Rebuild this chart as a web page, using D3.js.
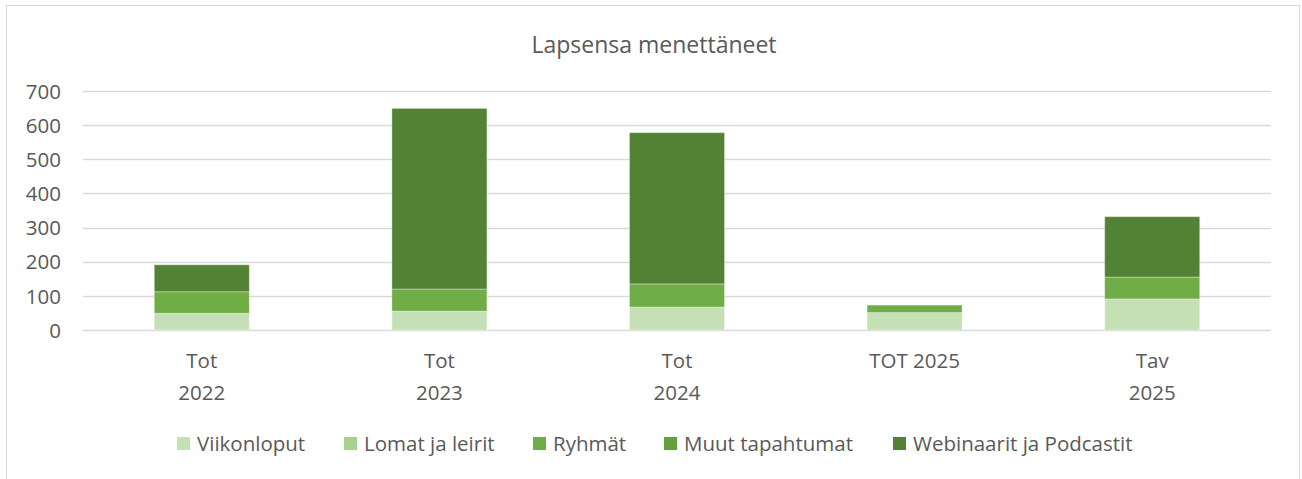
<!DOCTYPE html>
<html>
<head>
<meta charset="utf-8">
<script src="https://cdn.jsdelivr.net/npm/d3@7"></script>
<style>
  body { margin: 0; background: #fff; }
  svg text { font-family: "Open Sans", "Liberation Sans", sans-serif; fill: #595959; }
</style>
</head>
<body>
<div id="chart"></div>
<script>
'use strict';

// categories (x axis), two-line labels
const categories = ["Tot 2022", "Tot 2023", "Tot 2024", "TOT 2025", "Tav 2025"];
const categoryLabels = [["Tot", "2022"], ["Tot", "2023"], ["Tot", "2024"], ["TOT 2025"], ["Tav", "2025"]];

const seriesNames = ["Viikonloput", "Lomat ja leirit", "Ryhmät", "Muut tapahtumat", "Webinaarit ja Podcastit"];
const seriesColors = ["#C5E0B4", "#A9D18E", "#70AD47", "#65A03F", "#548235"];

// values
const viikonloput = [49, 55, 67, 51, 91];
const lomatJaLeirit = [0, 0, 0, 0, 0];
const ryhmat = [63, 65, 68, 22, 64];
const muutTapahtumat = [0, 0, 0, 0, 0];
const webinaarit = [79, 529, 443, 0, 177];

const yTicks = [0, 100, 200, 300, 400, 500, 600, 700];

const width = 1302, height = 479;
const margin = { left: 83, right: 31, top: 91, bottom: 149 };

const svg = d3.select("#chart").append("svg")
    .attr("width", width)
    .attr("height", height);

// chart frame
svg.append("rect")
    .attr("x", 6.5).attr("y", 5.5)
    .attr("width", 1293).attr("height", 480)
    .attr("fill", "#fff")
    .attr("stroke", "#d9d9d9");

const rows = categories.map((c, i) => ({
    cat: c,
    "Viikonloput": viikonloput[i],
    "Lomat ja leirit": lomatJaLeirit[i],
    "Ryhmät": ryhmat[i],
    "Muut tapahtumat": muutTapahtumat[i],
    "Webinaarit ja Podcastit": webinaarit[i]
}));

const x = d3.scaleBand()
    .domain(categories)
    .range([margin.left, width - margin.right])
    .paddingInner(0.6)
    .paddingOuter(0.3);

const y = d3.scaleLinear()
    .domain([0, 700])
    .range([height - margin.bottom, margin.top]);

// gridlines
svg.append("g")
    .selectAll("line")
    .data(yTicks)
    .join("line")
    .attr("x1", margin.left)
    .attr("x2", width - margin.right)
    .attr("y1", d => Math.round(y(d)) + 0.5)
    .attr("y2", d => Math.round(y(d)) + 0.5)
    .attr("stroke", "#d9d9d9")
    .attr("stroke-width", 1.5);

// y axis labels
const yAxis = d3.axisLeft(y).tickValues(yTicks).tickSize(0).tickPadding(0);
const yg = svg.append("g")
    .attr("transform", "translate(61,0)")
    .call(yAxis);
yg.select(".domain").remove();
yg.selectAll("text")
    .attr("font-size", 20.5)
    .attr("font-family", null)
    .attr("fill", null)
    .attr("dy", "0.35em");

// stacked bars
const stack = d3.stack().keys(seriesNames);
const stacked = stack(rows);

svg.append("g")
    .selectAll("g")
    .data(stacked)
    .join("g")
    .attr("fill", (d, i) => seriesColors[i])
    .selectAll("rect")
    .data(d => d.filter(s => s[1] - s[0] > 0))
    .join("rect")
    .attr("x", d => x(d.data.cat))
    .attr("width", x.bandwidth())
    .attr("y", d => y(d[1]))
    .attr("height", d => y(d[0]) - y(d[1]))
    .attr("stroke", "rgba(255,255,255,0.35)")
    .attr("stroke-width", 1);

// x labels
const xl = svg.append("g")
    .selectAll("text")
    .data(categories)
    .join("text")
    .attr("x", d => x(d) + x.bandwidth() / 2)
    .attr("y", 368)
    .attr("text-anchor", "middle")
    .attr("font-size", 20.5);
xl.each(function(d, i) {
    const t = d3.select(this);
    categoryLabels[i].forEach((line, j) => {
        t.append("tspan")
            .attr("x", x(d) + x.bandwidth() / 2)
            .attr("dy", j === 0 ? 0 : 32)
            .text(line);
    });
});

// title
svg.append("text")
    .attr("x", 654)
    .attr("y", 53)
    .attr("text-anchor", "middle")
    .attr("font-size", 23)
    .text("Lapsensa menettäneet");

// legend
const legendX = [177, 344, 533, 664, 893];
const legend = svg.append("g")
    .selectAll("g")
    .data(seriesNames)
    .join("g")
    .attr("transform", (d, i) => "translate(" + legendX[i] + ",437)");
legend.append("rect")
    .attr("width", 13).attr("height", 13)
    .attr("fill", (d, i) => seriesColors[i]);
legend.append("text")
    .attr("x", 20)
    .attr("y", 14)
    .attr("font-size", 20.5)
    .text(d => d);
</script>
</body>
</html>
